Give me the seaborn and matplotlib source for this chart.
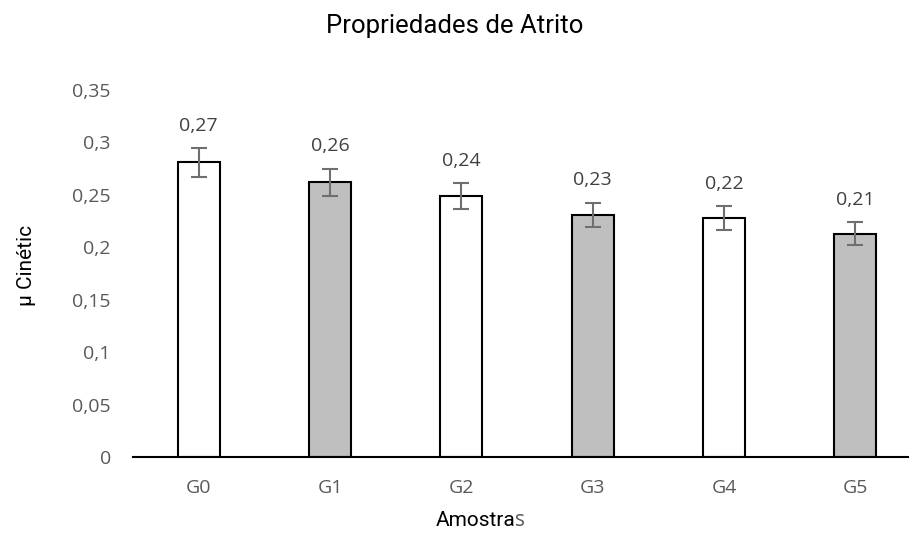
import numpy as np
import matplotlib
matplotlib.use("Agg")
import matplotlib.pyplot as plt
import seaborn as sns

# values
amostras = ["G0", "G1", "G2", "G3", "G4", "G5"]
mu_cinetico = [0.281, 0.262, 0.249, 0.231, 0.228, 0.213]
desvio = [0.0138, 0.013, 0.0124, 0.0116, 0.0115, 0.0107]
rotulos = ["0,27", "0,26", "0,24", "0,23", "0,22", "0,21"]
yticks = [0, 0.05, 0.1, 0.15, 0.2, 0.25, 0.3, 0.35]

sns.set_theme(style="white")
plt.rcParams["font.family"] = ["Open Sans", "DejaVu Sans"]
narrow = ["Roboto", "DejaVu Sans"]

fig = plt.figure(figsize=(9.09, 5.39), dpi=100)
ax = fig.add_axes([133 / 909, 82 / 539, 788 / 909, 367 / 539])

cores = ["white", "#bfbfbf"] * 3
sns.barplot(x=amostras, y=mu_cinetico, hue=amostras, palette=cores, legend=False,
            width=0.32, edgecolor="black", linewidth=1.5, ax=ax)
ax.errorbar(np.arange(len(amostras)), mu_cinetico, yerr=desvio, fmt="none",
            ecolor="#6f6f6f", elinewidth=1.5, capsize=6, capthick=1.5)

# data labels above the error bars
for i, (v, e, r) in enumerate(zip(mu_cinetico, desvio, rotulos)):
    ax.annotate(r, (i, v + e), xytext=(0, 16), textcoords="offset points",
                ha="center", va="center", fontsize=14, color="#404040")

ax.set_xlim(-0.5, 5.5)
ax.set_ylim(0, 0.35)
ax.set_yticks(yticks)
ax.set_yticklabels([("%g" % t).replace(".", ",") for t in yticks])
ax.tick_params(axis="y", length=0, pad=16, labelsize=14, labelcolor="#595959")
ax.tick_params(axis="x", length=0, pad=16, labelsize=14, labelcolor="#595959")
for s in ["top", "right", "left"]:
    ax.spines[s].set_visible(False)
ax.spines["bottom"].set_color("black")
ax.spines["bottom"].set_linewidth(1.5)
ax.set_xlabel("")
ax.set_ylabel("")

fig.text(455 / 909, 1 - 26 / 539, "Propriedades de Atrito", ha="center", va="center",
         fontsize=18.5, family=narrow, color="black")
fig.text(27 / 909, 1 - 265 / 539, "μ Cinétic", rotation=90, ha="center", va="center",
         fontsize=15, family=narrow, color="black")
fig.text(515 / 909, 1 - 520 / 539, "Amostra", ha="right", va="center",
         fontsize=15, family=narrow, color="black")
fig.text(515 / 909, 1 - 520 / 539, "s", ha="left", va="center",
         fontsize=15, color="#595959")

fig.savefig("out.png", dpi=100)
